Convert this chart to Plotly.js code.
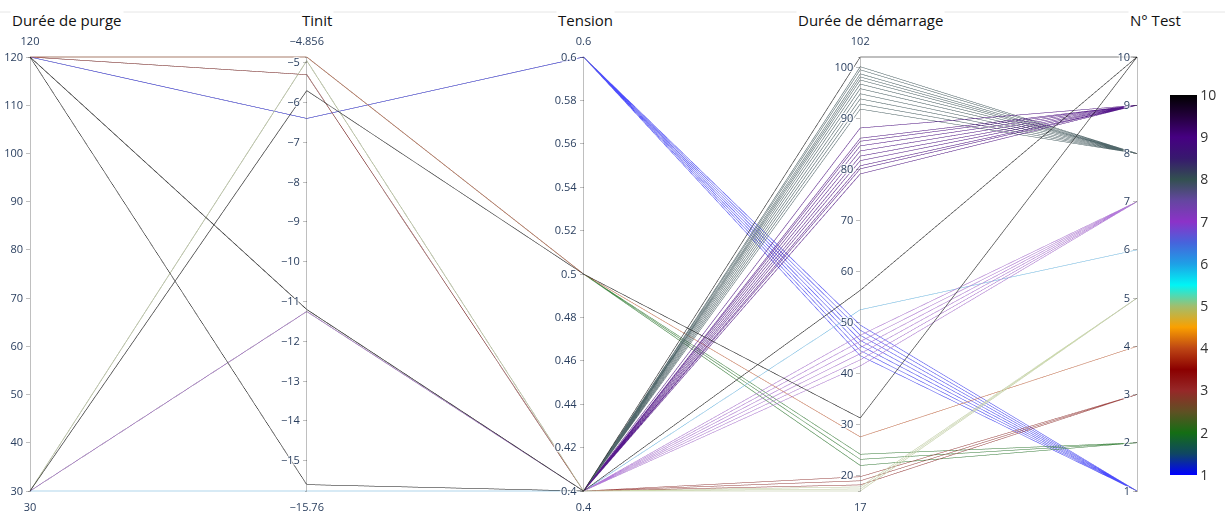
<!DOCTYPE html>
<html>
<head>
<meta charset="utf-8">
<script src="https://cdn.plot.ly/plotly-3.0.1.min.js"></script>
<style>html,body{margin:0;padding:0;background:#fff;}#chart{width:1225px;height:516px;}</style>
</head>
<body>
<div id="chart"></div>
<script>
// Axis titles
const dimensionNames = ["Durée de purge", "Tinit", "Tension", "Durée de démarrage", "N° Test"];

// One entry per line
const dureePurge = [
  120,120,120,120,120,120,120,          // test 1
  120,120,120,                          // test 2
  120,120,120,                          // test 3
  120,                                  // test 4
  30,30,30,                             // test 5
  30,                                   // test 6
  30,30,30,30,30,30,                    // test 7
  120,120,120,120,120,120,120,120,120,120,120, // test 8
  120,120,120,120,120,120,120,120,120,120,     // test 9
  120,120,30                            // test 10
];
const tinit = [
  -6.4,-6.4,-6.4,-6.4,-6.4,-6.4,-6.4,
  -4.856,-4.856,-4.856,
  -5.3,-5.3,-5.3,
  -4.856,
  -4.95,-4.95,-4.95,
  -15.76,
  -11.25,-11.25,-11.25,-11.25,-11.25,-11.25,
  -11.2,-11.2,-11.2,-11.2,-11.2,-11.2,-11.2,-11.2,-11.2,-11.2,-11.2,
  -11.2,-11.2,-11.2,-11.2,-11.2,-11.2,-11.2,-11.2,-11.2,-11.2,
  -11.2,-15.6,-5.7
];
const tension = [
  0.6,0.6,0.6,0.6,0.6,0.6,0.6,
  0.5,0.5,0.5,
  0.4,0.4,0.4,
  0.5,
  0.4,0.4,0.4,
  0.4,
  0.4,0.4,0.4,0.4,0.4,0.4,
  0.4,0.4,0.4,0.4,0.4,0.4,0.4,0.4,0.4,0.4,0.4,
  0.4,0.4,0.4,0.4,0.4,0.4,0.4,0.4,0.4,0.4,
  0.4,0.4,0.5
];
const dureeDemarrage = [
  43.5,44.5,45.5,46.5,47.5,48.5,49.5,
  22,23.2,24.2,
  18.2,19,19.8,
  27.6,
  17,17.4,17.8,
  52.5,
  41.5,42.7,43.9,45.1,46.3,47.5,
  91.8,92.8,93.8,94.8,95.8,96.7,97.5,98.1,98.7,99.5,100.1,
  79.1,80.1,80.7,81.7,82.6,83.6,84.6,85.5,86.1,88.1,
  102,56.3,31.3
];
const numeroTest = [
  1,1,1,1,1,1,1,
  2,2,2,
  3,3,3,
  4,
  5,5,5,
  6,
  7,7,7,7,7,7,
  8,8,8,8,8,8,8,8,8,8,8,
  9,9,9,9,9,9,9,9,9,9,
  10,10,10
];
const testTicks = [1,2,3,4,5,6,7,8,9,10];

// colour bar scale (value on N° Test scale -> colour)
const scaleStops = [
  [1, [0,0,255]], [1.5, [15,70,100]], [2, [20,110,20]], [2.5, [95,80,35]],
  [3, [150,40,40]], [3.5, [139,0,0]], [4, [190,70,20]], [4.5, [250,160,0]],
  [5, [160,190,110]], [5.5, [0,245,245]], [6, [30,160,230]], [6.5, [70,100,220]],
  [7, [140,50,200]], [7.5, [100,70,160]], [8, [50,80,80]], [8.5, [55,25,110]],
  [9, [70,0,130]], [9.5, [35,0,60]], [10, [0,0,0]]
];
// how pale each test's lines are drawn
const lineWash = {1: 0.3, 2: 0.2, 3: 0.15, 4: 0.25, 5: 0.45, 6: 0.4, 7: 0.35, 8: 0.15, 9: 0.1, 10: 0.1};
const mix = (c, k) => "rgb(" + c.map(v => Math.round(v * (1 - k) + 255 * k)).join(",") + ")";
const barScale = scaleStops.map(s => [(s[0]-1)/9, mix(s[1], 0)]);
const lineScale = scaleStops.map(s => [(s[0]-1)/9, mix(s[1], lineWash[Math.round(s[0])] !== undefined && Number.isInteger(s[0]) ? lineWash[s[0]] : 0.2)]);

const tickFont = {family: "Open Sans, Verdana, sans-serif", size: 11, color: "#2a3f5f"};

const trace = {
  type: "parcoords",
  domain: {x: [0, 1], y: [0, 1]},
  line: {color: numeroTest, colorscale: lineScale, cmin: 1, cmax: 10, showscale: false},
  labelfont: {size: 1, color: "rgba(0,0,0,0)"},
  tickfont: tickFont,
  rangefont: tickFont,
  dimensions: [
    {label: "", values: dureePurge},
    {label: "", values: tinit},
    {label: "", values: tension},
    {label: "", values: dureeDemarrage},
    {label: "", values: numeroTest, tickvals: testTicks}
  ]
};

// invisible scatter that only carries the colour bar
const barTrace = {
  type: "scatter", x: [null], y: [null], mode: "markers", hoverinfo: "skip", showlegend: false,
  marker: {
    color: [1, 10], cmin: 1, cmax: 10, colorscale: barScale, showscale: true,
    colorbar: {
      x: 1.0298, xanchor: "left", xpad: 0, y: 0.475, yanchor: "middle", len: 0.913, lenmode: "fraction",
      thickness: 27, outlinewidth: 0, tickvals: testTicks, ticktext: testTicks.map(String),
      tickfont: {family: "Open Sans, Verdana, sans-serif", size: 14, color: "#333"}, ticks: ""
    }
  }
};

const titleX = [[-0.018, "left"], [0.259, "center"], [0.5014, "center"], [0.759, "center"], [1.0163, "center"]];
const annotations = dimensionNames.map((n, i) => ({
  text: n, xref: "paper", yref: "paper", x: titleX[i][0], xanchor: titleX[i][1],
  y: 1 + (55 - 20) / 438, yanchor: "middle", showarrow: false, bgcolor: "#fff",
  font: {family: "Open Sans, sans-serif", size: 15, color: "#111"}
}));

const layout = {
  width: 1225, height: 516,
  margin: {l: 30, r: 88, t: 55, b: 23},
  paper_bgcolor: "#fff", plot_bgcolor: "rgba(0,0,0,0)",
  xaxis: {visible: false}, yaxis: {visible: false},
  shapes: [{type: "line", xref: "paper", yref: "paper", x0: -0.03, x1: 1.08, y0: 1 + (55 - 12) / 438, y1: 1 + (55 - 12) / 438, line: {color: "#e6e6e6", width: 1}, layer: "below"}],
  annotations: annotations
};

Plotly.newPlot("chart", [trace, barTrace], layout, {displayModeBar: false});
</script>
</body>
</html>
